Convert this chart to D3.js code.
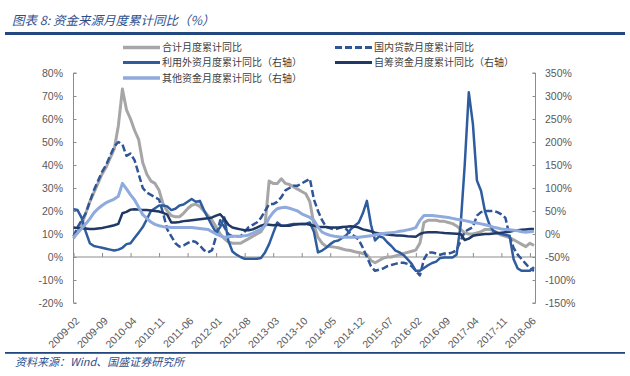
<!DOCTYPE html>
<html><head><meta charset="utf-8">
<script src="https://cdn.jsdelivr.net/npm/d3@7/dist/d3.min.js"></script>
<style>
body{margin:0;background:#fff;}
svg{display:block;}
text{font-family:"Liberation Sans",Arial,sans-serif;}
.cjk{font-family:"Noto Sans CJK SC","Noto Sans",sans-serif;}
</style></head>
<body><svg id="c" width="630" height="376"></svg>
<script>
// ---- data ----
const startYear = 2009, startMonth = 2, nMonths = 114; // 2009-02 .. 2018-07
const tickLabels = ["2009-02","2009-09","2010-04","2010-11","2011-06","2012-01","2012-08","2013-03","2013-10","2014-05","2014-12","2015-07","2016-02","2016-09","2017-04","2017-11","2018-06"];
const leftTicks = [-20,-10,0,10,20,30,40,50,60,70,80];
const rightTicks = [-150,-100,-50,0,50,100,150,200,250,300,350];

const total = [8,11,14,19,24,28,32,36,39,43,47,57,73,
 64,60,55,51,41,36,33,32,29,23,20,18,17.5,17.5,19,21,22.5,23,22,20,18,16,13,10,8,6.5,6,6,
 6,7,8,9,10,11,14,33,32,32,34,32,31.5,30.5,29.5,28.5,27.5,24,14,8.5,6,4.6,4.6,4.3,4,3.5,3,2.8,2.3,2,1.5,1,-1.5,-2.5,-1.5,-0.5,0,0,
 0.5,1,1.5,2,2.5,3,6,15,16,16,16,15.5,15.5,15,14.5,13.5,12,10.5,10,10,10.5,11,12,12,11.5,10.5,9.5,9,8.5,7.5,6.5,5.5,4.5,6,5];
const domesticLoan = [9,13,16,19,24,29,33,37,40,44,48,50,49,44,45,42,36,30,28,27,26,25,19,12,9,6,4.5,5,6,7,6.5,5,3,2,3,9,16,13,10,9,9,
 9,11,13,14,15,17,20,23,23,24,26,29,30,31,31,32,33,34,25,20,16,13,12.5,12,12.5,13,12,10,9,7.5,4,0,-4,-6,-5.5,-5,-4,-3.5,
 -3,-2.5,-2.5,-3,-4,-6,-8,-1,2,2,1.5,1,1.5,1.5,2,3,7,11,12,13,18,19.5,20,20,20,19.5,18.5,17,9,4,1,-1,-3,-5,-6];
const foreignCap = [54,52,35,5,-20,-26,-28,-30,-32,-34,-36,-34,-30,-22,-20,-8,3,15,32,50,56,62,62,60,52,55,62,64,70,76,70,72,52,35,18,3,15,36,-15,-38,-45,
 -50,-54,-54,-54,-54,-52,-40,-22,2,25,18,18,20,22,22,22,22,25,5,-40,-36,-30,-22,-16,-14,-8,-2,10,18,25,45,72,20,-14,-5,-8,-18,-26,
 -36,-40,-46,-55,-65,-80,-80,-74,-68,-63,-60,-52,-51,-51,-51,-45,20,150,308,240,116,94,48,22,7,3,0,-2,-4,-55,-75,-80,-80,-80,-72];
const selfRaised = [14,13,12,12,11,11,12,13,15,17,19,22,45,48,53,54,53,52,52,51,50,49,46,42,25,25,26,28,29,30,31,32,33,34,36,40,43,33,20,14,12,
 10,8,8,10,14,18,21,20,19,20,18,18,18,20,21,22,22,20,18,16,15,15,14,14,14,15,16,17,16,14,10,8,6,3,1,0,-1,-2,
 -3,-3.5,-4,-5,-5.5,-6,0,3,4,4,4,3,2,1.5,1,0.5,0,-13,-10,-4,-2,-1,0,0,1,1.5,3,4,5,7,8,9,10,11,11,11];
const otherFunds = [-7,2,12,22,33,46,55,62,68,72,76,82,110,98,85,74,58,42,34,26,21,18,16,15,14,14,14,14,14,14,13,12,11,10,5,0,-4,-7,-6,-5,-5,
 -5,-4,-2,2,6,10,18,35,47,55,57,58,56,53,50,44,40,36,30,15,4,0,-3,-5,-6,-7,-7,-7,-7,-7,-6,-5,-4,-2,0,1,2,3,
 4,6,7,9,11,14,30,40,40,40,39,38,37,36,34,32,31,29,27,25,24,22,20,18,15,13,11,10,9,8,7,5,4,5,6];

const months = d3.range(nMonths).map(i => {
  const m = startMonth - 1 + i; const y = startYear + Math.floor(m/12);
  return y + "-" + String(m%12+1).padStart(2,"0");
});

const seriesDefs = [
  {name:"合计月度累计同比", data: total, axis:"L", color:"#a6a6a6", w:3, dash:null},
  {name:"国内贷款月度累计同比", data: domesticLoan, axis:"L", color:"#2f5597", w:2.5, dash:"7,3"},
  {name:"利用外资月度累计同比（右轴）", data: foreignCap, axis:"R", color:"#2f5c9e", w:2.5, dash:null},
  {name:"自筹资金月度累计同比（右轴）", data: selfRaised, axis:"R", color:"#1f3864", w:2.5, dash:null},
  {name:"其他资金月度累计同比（右轴）", data: otherFunds, axis:"R", color:"#8faadc", w:3, dash:null}
];

// ---- layout ----
const svg = d3.select("#c");
const X0 = 73.5, X1 = 534, Y0 = 73, Y1 = 303;
const x = d3.scalePoint().domain(months).range([X0, X1]);
const yL = d3.scaleLinear().domain([-20, 80]).range([Y1, Y0]);
const yR = d3.scaleLinear().domain([-150, 350]).range([Y1, Y0]);
const axisColor = "#8c8c8c";
const labelColor = "#595959";

svg.append("rect").attr("width",630).attr("height",376).attr("fill","#fff");

// title
svg.append("text").attr("class","cjk").attr("x",12).attr("y",25)
  .attr("font-size",12.5).attr("font-style","italic").attr("fill","#2e4f8e")
  .text("图表 8: 资金来源月度累计同比（%）");
svg.append("rect").attr("x",5).attr("y",32).attr("width",620).attr("height",3).attr("fill","#23477f");

// footer
svg.append("rect").attr("x",5).attr("y",352).attr("width",620).attr("height",1.8).attr("fill","#23477f");
svg.append("text").attr("class","cjk").attr("x",15).attr("y",366)
  .attr("font-size",11).attr("font-style","italic").attr("fill","#2e4f8e")
  .text("资料来源：Wind、国盛证券研究所");

// left axis
const gL = svg.append("g").attr("transform",`translate(${X0},0)`)
  .call(d3.axisRight(yL).tickValues(leftTicks).tickSize(3).tickFormat(""));
gL.selectAll("path,line").attr("stroke",axisColor);
gL.select(".domain").attr("d",`M3,${Y0}H0V${Y1}H3`);
svg.append("g").selectAll("text").data(leftTicks).join("text")
  .attr("x",63).attr("y",d=>yL(d)).attr("dy","0.35em").attr("text-anchor","end")
  .attr("font-size",10.5).attr("fill",labelColor).text(d=>d+"%");

// right axis
const gR = svg.append("g").attr("transform",`translate(${X1+1.5},0)`)
  .call(d3.axisLeft(yR).tickValues(rightTicks).tickSize(3).tickFormat(""));
gR.selectAll("path,line").attr("stroke",axisColor);
gR.select(".domain").attr("d",`M-3,${Y0}H0V${Y1}H-3`);
svg.append("g").selectAll("text").data(rightTicks).join("text")
  .attr("x",545).attr("y",d=>yR(d)).attr("dy","0.35em").attr("text-anchor","start")
  .attr("font-size",10.5).attr("fill",labelColor).text(d=>d+"%");

// x axis at 0 of left axis
const gX = svg.append("g").attr("transform",`translate(0,${yL(0)})`)
  .call(d3.axisTop(x).tickValues(tickLabels).tickSize(4).tickFormat(""));
gX.selectAll("path,line").attr("stroke",axisColor);
gX.select(".domain").attr("d",`M${X0},0H${X1+1.5}`);
svg.append("g").selectAll("text").data(tickLabels).join("text")
  .attr("transform",d=>`translate(${x(d)+4},${Y1+16}) rotate(-45)`)
  .attr("dy","0.35em").attr("text-anchor","end")
  .attr("font-size",10.5).attr("fill",labelColor).text(d=>d);

// lines
seriesDefs.forEach(s => {
  const ys = s.axis === "L" ? yL : yR;
  const line = d3.line().x((d,i)=>x(months[i])).y(d=>ys(d)).curve(d3.curveLinear);
  svg.append("path").datum(s.data).attr("d",line)
    .attr("fill","none").attr("stroke",s.color).attr("stroke-width",s.w)
    .attr("stroke-linejoin","round").attr("stroke-dasharray",s.dash);
});

// legend
const legendPos = [
  {lx:123, ly:47.5},{lx:335, ly:47.5},
  {lx:123, ly:62.5},{lx:335, ly:62.5},
  {lx:123, ly:78}
];
const lg = svg.append("g");
seriesDefs.forEach((s,i) => {
  const p = legendPos[i];
  lg.append("line").attr("x1",p.lx).attr("x2",p.lx+37).attr("y1",p.ly).attr("y2",p.ly)
    .attr("stroke",s.color).attr("stroke-width",s.w+0.5).attr("stroke-dasharray",s.dash);
  lg.append("text").attr("class","cjk").attr("x",p.lx+39).attr("y",p.ly).attr("dy","0.35em")
    .attr("font-size",10).attr("fill","#404040").text(s.name);
});
</script></body></html>
